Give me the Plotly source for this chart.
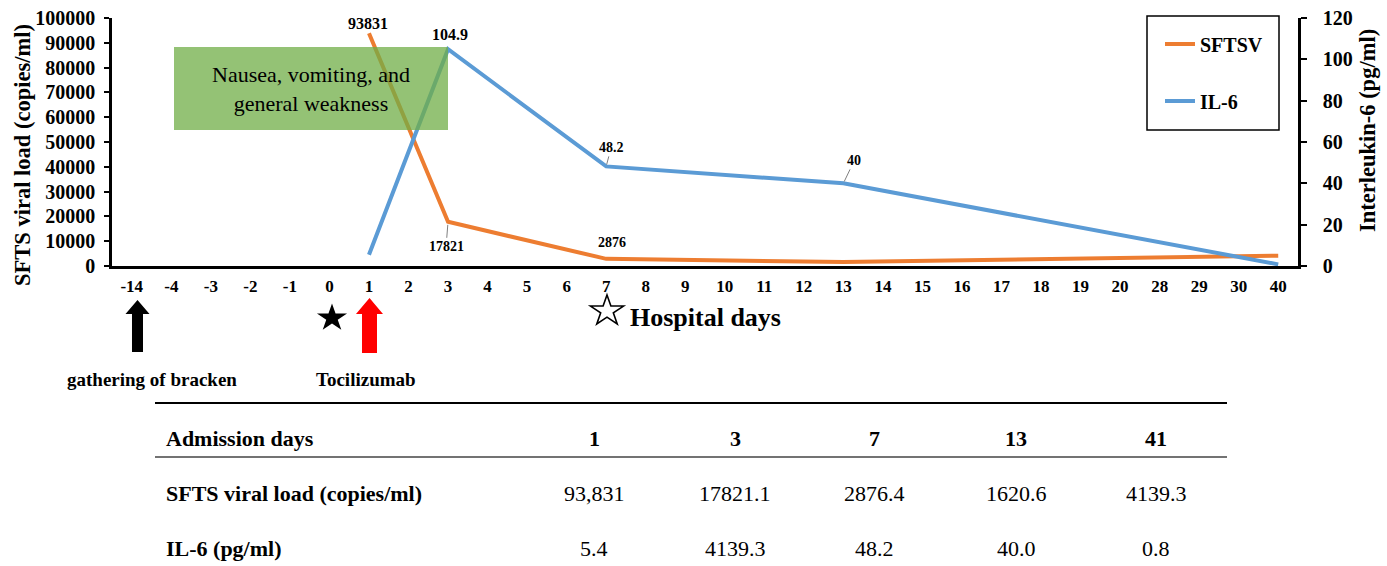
import math
import plotly.graph_objects as go

# ---------------- data ----------------
categories = ["-14", "-4", "-3", "-2", "-1", "0", "1", "2", "3", "4", "5", "6", "7", "8", "9",
              "10", "11", "12", "13", "14", "15", "16", "17", "18", "19", "20", "28", "29", "30", "40"]
sample_days = ["1", "3", "7", "13", "40"]
sftsv_values = [93831, 17821, 2876, 1620.6, 4139.3]
il6_values = [5.4, 104.9, 48.2, 40.0, 0.8]

table_header = ["1", "3", "7", "13", "41"]
table_sfts = ["93,831", "17821.1", "2876.4", "1620.6", "4139.3"]
table_il6 = ["5.4", "4139.3", "48.2", "40.0", "0.8"]
row_labels = ["Admission days", "SFTS viral load (copies/ml)", "IL-6 (pg/ml)"]

# ---------------- layout helpers (pixel -> paper) ----------------
W, H = 1387, 566
L, R, T, B = 112, 1298, 18, 266


def px(x):
    return (x - L) / (R - L)


def py(y):
    return (B - y) / (B - T)


cat_idx = {c: i for i, c in enumerate(categories)}

SERIF = "Liberation Serif"
ORANGE = "#ED7D31"
BLUE = "#5B9BD5"

fig = go.Figure()

# register all categories on the x axis
fig.add_trace(go.Scatter(x=categories, y=[None] * len(categories), mode="lines",
                         showlegend=False, hoverinfo="skip"))

fig.add_trace(go.Scatter(x=sample_days, y=sftsv_values, mode="lines", name="SFTSV",
                         line=dict(color=ORANGE, width=4), legend="legend"))
fig.add_trace(go.Scatter(x=sample_days, y=il6_values, mode="lines", name="IL-6",
                         line=dict(color=BLUE, width=4), yaxis="y2", legend="legend2"))

shapes = []
annotations = []


def note(x, y, text, font, xanchor="center", yanchor="middle", **kw):
    annotations.append(dict(xref="paper", yref="paper", x=px(x), y=py(y), text=text,
                            showarrow=False, xanchor=xanchor, yanchor=yanchor, font=font, **kw))


# green symptom box (drawn above lines, semi-transparent)
shapes.append(dict(type="rect", xref="paper", yref="paper", x0=px(174), x1=px(448),
                   y0=py(130), y1=py(47), fillcolor="#70AD47", opacity=0.75,
                   line=dict(width=0), layer="above"))
note(311, 89, "Nausea, vomiting, and<br>general weakness",
     dict(family=SERIF, size=22, color="black"))

# legend frame
shapes.append(dict(type="rect", xref="paper", yref="paper", x0=px(1147), x1=px(1279),
                   y0=py(130), y1=py(16), line=dict(color="black", width=1.5),
                   fillcolor="rgba(0,0,0,0)", layer="above"))

# data labels
lab_big = dict(family=SERIF, size=16, color="black", weight="bold")
lab_small = dict(family=SERIF, size=14, color="black", weight="bold")
d = sample_days
annotations += [
    dict(x=cat_idx[d[0]], y=sftsv_values[0], xref="x", yref="y", text=f"{sftsv_values[0]:.0f}",
         showarrow=False, yshift=10, xshift=-1, font=lab_big),
    dict(x=cat_idx[d[1]], y=il6_values[1], xref="x", yref="y2", text=f"{il6_values[1]:g}",
         showarrow=False, yshift=15, xshift=2, font=lab_big),
    dict(x=cat_idx[d[1]], y=sftsv_values[1], xref="x", yref="y", text=f"{sftsv_values[1]:.0f}",
         showarrow=True, arrowhead=0, arrowwidth=1, arrowcolor="#7f7f7f",
         ax=-2, ay=25, standoff=3, font=lab_small),
    dict(x=cat_idx[d[2]], y=sftsv_values[2], xref="x", yref="y", text=f"{sftsv_values[2]:.0f}",
         showarrow=False, yshift=16, xshift=6, font=lab_small),
    dict(x=cat_idx[d[2]], y=il6_values[2], xref="x", yref="y2", text=f"{il6_values[2]:g}",
         showarrow=True, arrowhead=0, arrowwidth=1, arrowcolor="#7f7f7f",
         ax=5, ay=-19, standoff=2, font=lab_small),
    dict(x=cat_idx[d[3]], y=il6_values[3], xref="x", yref="y2", text=f"{il6_values[3]:g}",
         showarrow=True, arrowhead=0, arrowwidth=1, arrowcolor="#7f7f7f",
         ax=11, ay=-23, standoff=2, font=lab_small),
]

# axis titles
title_font = dict(family=SERIF, size=22.5, color="black", weight="bold")
note(22, 155, "SFTS viral load (copies/ml)", title_font, textangle=-90)
note(1367, 131, "Interleukin-6 (pg/ml)", title_font, textangle=-90)


def poly_path(pts):
    return "M" + " L".join(f"{px(x):.5f},{py(y):.5f}" for x, y in pts) + " Z"


# arrows below the axis
def arrow_path(cx, top, base, bottom, head_w, shaft_w):
    pts = [(cx, top), (cx + head_w / 2, base), (cx + shaft_w / 2, base), (cx + shaft_w / 2, bottom),
           (cx - shaft_w / 2, bottom), (cx - shaft_w / 2, base), (cx - head_w / 2, base)]
    return poly_path(pts)


def star_path(cx, cy, rx, ry):
    pts = []
    for k in range(10):
        ang = -math.pi / 2 + k * math.pi / 5
        f = 1.0 if k % 2 == 0 else 0.382
        pts.append((cx + rx * f * math.cos(ang), cy + ry * f * math.sin(ang)))
    return poly_path(pts)


shapes.append(dict(type="path", xref="paper", yref="paper",
                   path=arrow_path(137.5, 300, 314, 352, 24, 11),
                   fillcolor="black", line=dict(width=0)))
shapes.append(dict(type="path", xref="paper", yref="paper",
                   path=arrow_path(369.5, 298, 314, 353, 27, 15),
                   fillcolor="#FF0000", line=dict(width=0)))
# filled star (day 0) and open star (hospital days)
shapes.append(dict(type="path", xref="paper", yref="paper",
                   path=star_path(332, 318, 15.8, 14.5), fillcolor="black", line=dict(width=0)))
shapes.append(dict(type="path", xref="paper", yref="paper",
                   path=star_path(607, 311, 17.4, 16), fillcolor="rgba(0,0,0,0)",
                   line=dict(color="black", width=1.6)))

note(628, 317, "Hospital days", dict(family=SERIF, size=26, color="black", weight="bold"),
     xanchor="left")
note(152, 379, "gathering of bracken", dict(family=SERIF, size=19, color="black", weight="bold"))
note(366, 379, "Tocilizumab", dict(family=SERIF, size=19, color="black", weight="bold"))

# table
shapes.append(dict(type="line", xref="paper", yref="paper", x0=px(155), x1=px(1227),
                   y0=py(403), y1=py(403), line=dict(color="black", width=2)))
shapes.append(dict(type="line", xref="paper", yref="paper", x0=px(155), x1=px(1227),
                   y0=py(457), y1=py(457), line=dict(color="#444444", width=1.5)))

row_y = [438, 493, 548]
col_x = [594, 735, 874, 1016, 1156]
bold22 = dict(family=SERIF, size=22, color="black", weight="bold")
reg22 = dict(family=SERIF, size=22, color="black")
for lbl, yy in zip(row_labels, row_y):
    note(164, yy, lbl, bold22, xanchor="left")
for rowvals, yy, f in zip([table_header, table_sfts, table_il6], row_y, [bold22, reg22, reg22]):
    for v, xx in zip(rowvals, col_x):
        note(xx, yy, v, f)

legend_common = dict(bgcolor="rgba(0,0,0,0)", borderwidth=0, xanchor="left", yanchor="middle",
                     font=dict(family=SERIF, size=20, color="black", weight="bold"))

fig.update_layout(
    width=W, height=H,
    margin=dict(l=L, r=W - R, t=T, b=H - B, autoexpand=False),
    paper_bgcolor="white", plot_bgcolor="white",
    showlegend=True,
    legend=dict(x=px(1160), y=py(44), **legend_common),
    legend2=dict(x=px(1160), y=py(101), **legend_common),
    xaxis=dict(type="category", categoryorder="array", categoryarray=categories,
               range=[-0.5, len(categories) - 0.5], tickmode="array", tickvals=categories,
               ticktext=categories, showline=True, linecolor="black", linewidth=3,
               ticks="", showgrid=False, zeroline=False, ticklabelstandoff=3,
               tickfont=dict(family=SERIF, size=17, color="black", weight="bold")),
    yaxis=dict(range=[0, 100000], dtick=10000, tickformat="d", showline=True,
               linecolor="black", linewidth=2.5, ticks="outside", ticklen=5, tickwidth=2,
               tickcolor="black", showgrid=False, zeroline=False, ticklabelstandoff=5,
               tickfont=dict(family=SERIF, size=20, color="black", weight="bold")),
    yaxis2=dict(range=[0, 120], dtick=20, overlaying="y", side="right", showline=True,
                linecolor="black", linewidth=2.5, ticks="outside", ticklen=6, tickwidth=2,
                tickcolor="black", showgrid=False, zeroline=False, ticklabelstandoff=12,
                tickfont=dict(family=SERIF, size=20, color="black", weight="bold")),
    shapes=shapes,
    annotations=annotations,
)

fig.write_html("out.html", config={"displayModeBar": False},
               post_script="document.body.style.margin='0';document.body.style.overflow='hidden';")
